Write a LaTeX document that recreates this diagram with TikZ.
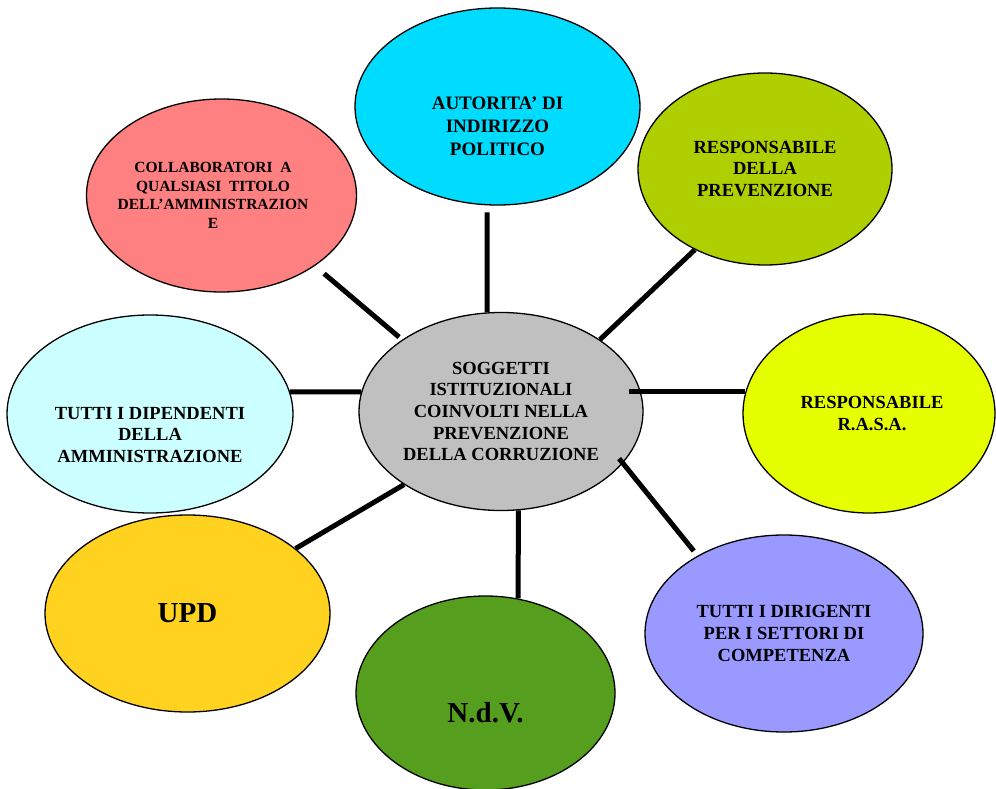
\documentclass[tikz,border=0pt]{standalone}
\usepackage{fontspec}
\setmainfont{Liberation Serif}
\usetikzlibrary{shapes.geometric}

\definecolor{grigio}{HTML}{C0C0C0}
\definecolor{ciano}{HTML}{00DCFF}
\definecolor{oliva}{HTML}{AFCF00}
\definecolor{limone}{HTML}{E6FF00}
\definecolor{lavanda}{HTML}{9999FF}
\definecolor{verde}{HTML}{569E1E}
\definecolor{giallo}{HTML}{FFD21F}
\definecolor{azzurro}{HTML}{CCFFFF}
\definecolor{rosa}{HTML}{FF8080}

\begin{document}
\begin{tikzpicture}[x=1pt, y=-1pt,
    bubble/.style={ellipse, draw=black, line width=1.3pt, inner sep=0pt},
    link/.style={line width=5pt},
    txt/.style={align=center, inner sep=0pt, font=\bfseries\fontsize{18.5}{21.7}\selectfont}]
  \useasboundingbox (0,0) rectangle (996,789);

  % bubbles
  \node[bubble, fill=grigio, minimum width=284pt, minimum height=198pt] (sog) at (501,411.5) {};
  \node[bubble, fill=ciano, minimum width=285pt, minimum height=197pt] (aut) at (497.5,106.5) {};
  \node[bubble, fill=oliva, minimum width=254pt, minimum height=192pt] (pre) at (765,169) {};
  \node[bubble, fill=limone, minimum width=252pt, minimum height=199pt] (rasa) at (869,413.5) {};
  \node[bubble, fill=lavanda, minimum width=278pt, minimum height=197pt] (dir) at (784,633.5) {};
  \node[bubble, fill=verde, minimum width=259pt, minimum height=194pt] (ndv) at (485.5,693) {};
  \node[bubble, fill=giallo, minimum width=285pt, minimum height=197pt] (upd) at (187.5,613.5) {};
  \node[bubble, fill=azzurro, minimum width=286pt, minimum height=198pt] (dip) at (150,414) {};
  \node[bubble, fill=rosa, minimum width=270pt, minimum height=193pt] (col) at (221.5,195.5) {};

  % connectors
  \draw[link, shorten <=7pt] (aut.264) -- (sog.98);
  \draw[link] (pre.229) -- (sog.36);
  \draw[link, shorten <=-11pt] (rasa.170 -| sog.9) -- (rasa.170);
  \draw[link, shorten <=-6pt, shorten >=6pt] (sog.337) -- (dir.138);
  \draw[link] (sog.280) -- (ndv.71);
  \draw[link] (sog.217) -- (upd.31);
  \draw[link] (dip.9) -- (sog.172);
  \draw[link, shorten <=4pt, shorten >=12pt] (sog.144) -- (col.323);

  % labels
  \node[txt] (sog-t) at (sog) {SOGGETTI\\ISTITUZIONALI\\COINVOLTI NELLA\\PREVENZIONE\\DELLA CORRUZIONE};
  \node[txt, font=\bfseries\fontsize{19}{23}\selectfont] (aut-t) at ([yshift=-20pt]aut.center) {AUTORITA’ DI\\INDIRIZZO\\POLITICO};
  \node[txt] (pre-t) at (pre) {RESPONSABILE\\DELLA\\PREVENZIONE};
  \node[txt] (rasa-t) at ([xshift=3pt]rasa.center) {RESPONSABILE\\R.A.S.A.};
  \node[txt] (dir-t) at (dir) {TUTTI I DIRIGENTI\\PER I SETTORI DI\\COMPETENZA};
  \node[txt, font=\bfseries\fontsize{29}{34}\selectfont] (ndv-t) at ([yshift=-20pt]ndv.center) {N.d.V.};
  \node[txt, font=\bfseries\fontsize{29}{34}\selectfont] (upd-t) at (upd) {UPD};
  \node[txt] (dip-t) at ([yshift=-21pt]dip.center) {TUTTI I DIPENDENTI\\DELLA\\AMMINISTRAZIONE};
  \node[txt, font=\bfseries\fontsize{15.5}{18.7}\selectfont] (col-t) at ([xshift=-8.5pt]col.center) {COLLABORATORI\ \ A\\QUALSIASI\ \ TITOLO\\DELL’AMMINISTRAZION\\E};
\end{tikzpicture}
\end{document}
